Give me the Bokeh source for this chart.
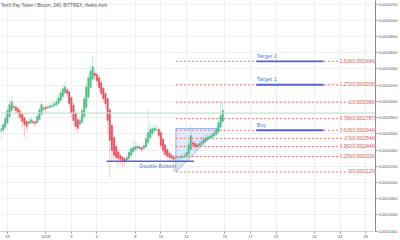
from datetime import datetime, timedelta
from bokeh.plotting import figure
from bokeh.models import ColumnDataSource, FixedTicker, NumeralTickFormatter, Label, Span, Range1d
from bokeh.embed import file_html
from bokeh.resources import INLINE

FONT = "Liberation Sans"

# ---------------- data ----------------
title_text = "TenX Pay Token / Bitcoin, 240, BITTREX, Heikin Ashi"
first_candle = datetime(2017, 12, 28, 12)   # 4h Heikin Ashi candles
candle_hours = 4

# prices in units of 1e-7 BTC
ha_open_e7 = [2628, 2647, 2680, 2733, 2812, 2886, 2941, 2932, 2909, 2879,
              2839, 2795, 2755, 2723, 2736, 2756, 2747, 2737, 2775, 2837,
              2898, 2926, 2918, 2926, 2936, 2945, 2958, 2977, 3011, 3059,
              3107, 3144, 3119, 3045, 2953, 2858, 2775, 2719, 2741, 2812,
              2923, 3051, 3171, 3274, 3350, 3333, 3293, 3231, 3162, 3098,
              3034, 2898, 2708, 2555, 2444, 2377, 2336, 2310, 2291, 2276,
              2292, 2331, 2375, 2404, 2423, 2437, 2428, 2418, 2437, 2490,
              2552, 2602, 2634, 2653, 2656, 2617, 2537, 2466, 2406, 2363,
              2336, 2317, 2301, 2302, 2305, 2310, 2315, 2321, 2346, 2407,
              2493, 2481, 2463, 2450, 2466, 2486, 2508, 2528, 2545, 2558,
              2572, 2591, 2622, 2680, 2752]
ha_close_e7 = [2665, 2714, 2788, 2886, 2960, 2996, 2923, 2886, 2849, 2800,
               2751, 2714, 2690, 2751, 2775, 2739, 2726, 2812, 2898, 2960,
               2923, 2910, 2935, 2947, 2953, 2972, 2996, 3045, 3107, 3156,
               3180, 3094, 2972, 2861, 2763, 2690, 2665, 2763, 2886, 3033,
               3180, 3291, 3377, 3426, 3315, 3254, 3168, 3094, 3033, 2972,
               2763, 2518, 2395, 2334, 2309, 2297, 2285, 2272, 2260, 2309,
               2371, 2420, 2432, 2444, 2450, 2420, 2407, 2456, 2542, 2616,
               2653, 2665, 2671, 2659, 2579, 2456, 2395, 2346, 2321, 2309,
               2297, 2285, 2303, 2309, 2315, 2321, 2328, 2371, 2469, 2579,
               2469, 2444, 2438, 2481, 2505, 2530, 2548, 2561, 2573, 2585,
               2610, 2653, 2739, 2825, 2886]
ha_high_e7 = [2710, 2750, 2830, 2930, 3010, 3070, 2990, 2960, 2940, 2900,
              2860, 2820, 2770, 2790, 2810, 2780, 2770, 2850, 2940, 3000,
              2950, 2950, 2970, 2980, 2990, 3010, 3040, 3090, 3150, 3200,
              3254, 3170, 3140, 3070, 2980, 2880, 2800, 2800, 2930, 3080,
              3230, 3340, 3440, 3560, 3400, 3360, 3320, 3250, 3180, 3120,
              3050, 2920, 2730, 2580, 2470, 2400, 2360, 2330, 2310, 2340,
              2420, 2470, 2518, 2500, 2490, 2460, 2450, 2500, 2600, 2886,
              2720, 2700, 2720, 2700, 2680, 2640, 2560, 2490, 2430, 2390,
              2360, 2340, 2340, 2340, 2350, 2360, 2370, 2410, 2520, 2700,
              2530, 2510, 2490, 2520, 2560, 2580, 2600, 2600, 2610, 2620,
              2650, 2700, 2800, 2980, 2990]
ha_low_e7 = [2520, 2610, 2650, 2710, 2790, 2870, 2880, 2840, 2790, 2750,
             2680, 2560, 2640, 2700, 2720, 2700, 2680, 2720, 2760, 2820,
             2870, 2860, 2900, 2910, 2920, 2930, 2940, 2960, 2990, 3040,
             3090, 3050, 2930, 2800, 2700, 2620, 2604, 2690, 2720, 2790,
             2900, 3030, 3150, 3250, 3270, 3200, 3120, 3050, 2990, 2900,
             2600, 2060, 2250, 2270, 2240, 2200, 2230, 2187, 2200, 2240,
             2270, 2310, 2350, 2380, 2400, 2390, 2370, 2400, 2420, 2470,
             2530, 2580, 2610, 2620, 2550, 2420, 2340, 2300, 2280, 2260,
             2240, 2125, 2250, 2260, 2270, 2280, 2290, 2300, 2330, 2390,
             2440, 2400, 2400, 2430, 2450, 2470, 2490, 2510, 2530, 2540,
             2555, 2575, 2600, 2660, 2730]

fib_ratios = ["2.618", "1.272", "1", "0.786", "0.618", "0.5", "0.382", "0.236", "0"]
fib_prices = [0.0003494, 0.0003205, 0.0002989, 0.0002787, 0.0002644,
              0.0002544, 0.0002444, 0.0002320, 0.0002129]
fib_start = datetime(2018, 1, 11, 4)

target_names = ["Target 2", "Target 1", "Buy"]
target_prices = [0.0003494, 0.0003205, 0.0002644]
target_start = datetime(2018, 1, 17, 11)
target_end = datetime(2018, 1, 22, 17)

double_bottom_price = 0.0002262
double_bottom_start = datetime(2018, 1, 5, 18)
double_bottom_end = datetime(2018, 1, 12, 14)

triangle_times = [datetime(2018, 1, 11, 4), datetime(2018, 1, 14, 12), datetime(2018, 1, 11, 4)]
triangle_prices = [0.0002665, 0.0002665, 0.0002129]

resistance_price = 0.0002856

x_tick_dates = [datetime(2017, 12, 29), datetime(2018, 1, 1), datetime(2018, 1, 3),
                datetime(2018, 1, 5), datetime(2018, 1, 8), datetime(2018, 1, 10),
                datetime(2018, 1, 12), datetime(2018, 1, 15), datetime(2018, 1, 17),
                datetime(2018, 1, 19), datetime(2018, 1, 22), datetime(2018, 1, 24),
                datetime(2018, 1, 26)]
x_tick_labels = ["29", "2018", "3", "5", "8", "10", "12", "15", "17", "19", "22", "24", "26"]
y_ticks = [0.00014, 0.00016, 0.00018, 0.00020, 0.00022, 0.00024, 0.00026,
           0.00028, 0.00030, 0.00032, 0.00034, 0.00036, 0.00038, 0.00040, 0.00042]

# ---------------- build ----------------
def ms(d):
    return (d - datetime(1970, 1, 1)).total_seconds() * 1000.0

UP, DOWN = "#53b987", "#eb4d5c"
n = len(ha_close_e7)
times = [first_candle + timedelta(hours=candle_hours * i) for i in range(n)]
o = [v * 1e-7 for v in ha_open_e7]
c = [v * 1e-7 for v in ha_close_e7]
h = [v * 1e-7 for v in ha_high_e7]
l = [v * 1e-7 for v in ha_low_e7]
colors = [UP if c[i] >= o[i] else DOWN for i in range(n)]
src = ColumnDataSource(dict(t=times, o=o, c=c, h=h, l=l,
                            top=[max(a, b) for a, b in zip(o, c)],
                            bot=[min(a, b) for a, b in zip(o, c)],
                            color=colors))

p = figure(width=400, height=240, x_axis_type="datetime", y_axis_location="right",
           output_backend="svg", toolbar_location=None,
           x_range=Range1d(datetime(2017, 12, 28, 11, 5), datetime(2018, 1, 26, 18, 30)),
           y_range=Range1d(0.0001395, 0.0004244),
           min_border_left=0, min_border_top=0, min_border_right=19, min_border_bottom=8,
           background_fill_color="white", border_fill_color="white",
           outline_line_color=None)

# grid
p.xgrid.ticker = FixedTicker(ticks=[ms(d) for d in x_tick_dates])
p.ygrid.ticker = FixedTicker(ticks=y_ticks)
p.xgrid.grid_line_color = "#edf1f7"
p.ygrid.grid_line_color = "#edf1f7"

# resistance line
p.add_layout(Span(location=resistance_price, dimension="width",
                  line_color="#bfe3d2", line_width=1.2))

# triangle
p.patch(triangle_times, triangle_prices, fill_color="#9cb9f0", fill_alpha=0.3,
        line_color="#85a6ec", line_width=0.8)

# fib levels
p.segment(x0=[fib_start] * len(fib_prices), y0=fib_prices,
          x1=[datetime(2018, 1, 26, 18, 30)] * len(fib_prices), y1=fib_prices,
          line_color="#e06a6a", line_width=0.9, line_dash="2 2")

# candles
wick_w = 0.7
p.segment(x0="t", y0="h", x1="t", y1="l", source=src, line_color="color",
          line_alpha=0.45, line_width=wick_w)
p.vbar(x="t", top="top", bottom="bot", width=candle_hours * 3600 * 1000 * 0.75,
       source=src, fill_color="color", line_color="color", line_width=0.3)

# double bottom
p.segment(x0=[double_bottom_start], y0=[double_bottom_price],
          x1=[double_bottom_end], y1=[double_bottom_price],
          line_color="#5b62d9", line_width=1.6)
p.add_layout(Label(x=datetime(2018, 1, 9, 18), y=double_bottom_price, text="Double Bottom",
                   text_align="center", text_baseline="top", y_offset=-1.5,
                   text_font=FONT, text_font_size="5.5px", text_color="#4a7fe0"))

# targets
p.segment(x0=[target_start] * 3, y0=target_prices, x1=[target_end] * 3, y1=target_prices,
          line_color="#5b62d9", line_width=1.8)
for name, pr in zip(target_names, target_prices):
    p.add_layout(Label(x=target_start, y=pr, text=name, text_align="left",
                       text_baseline="bottom", y_offset=2.5, x_offset=0.5,
                       text_font=FONT, text_font_size="5.5px", text_color="#4a7fe0"))

# fib labels
for r, pr in zip(fib_ratios, fib_prices):
    p.add_layout(Label(x=datetime(2018, 1, 26, 18, 0), y=pr, text=f"{r}({pr:.7f})",
                       text_align="right", text_baseline="middle",
                       text_font=FONT, text_font_size="4.5px", text_color="#cf5858",
                       background_fill_color="white", background_fill_alpha=1.0))

# title
p.add_layout(Label(x=datetime(2017, 12, 28, 11, 5), y=0.0004244, text=title_text,
                   text_align="left", text_baseline="top", x_offset=0.5, y_offset=-2,
                   text_font=FONT, text_font_size="4.5px", text_color="#555555"))

# axes
xa = p.xaxis[0]
xa.ticker = FixedTicker(ticks=[ms(d) for d in x_tick_dates])
xa.major_label_overrides = {ms(d): s for d, s in zip(x_tick_dates, x_tick_labels)}
xa.major_label_text_font = FONT
xa.major_label_text_font_size = "4px"
xa.major_label_text_color = "#555555"
xa.major_label_standoff = 1
xa.major_tick_out = 2
xa.major_tick_in = 0
xa.minor_tick_line_color = None
xa.axis_line_color = "#d6d6d6"
xa.major_tick_line_color = "#999999"

ya = p.yaxis[0]
ya.ticker = FixedTicker(ticks=y_ticks)
ya.formatter = NumeralTickFormatter(format="0.0000000")
ya.major_label_text_font = FONT
ya.major_label_text_font_size = "4px"
ya.major_label_text_color = "#555555"
ya.major_label_standoff = 1
ya.major_tick_out = 2
ya.major_tick_in = 0
ya.minor_tick_line_color = None
ya.axis_line_color = "#8a8a8a"
ya.major_tick_line_color = "#999999"

open("out.html", "w").write(file_html(p, INLINE))
